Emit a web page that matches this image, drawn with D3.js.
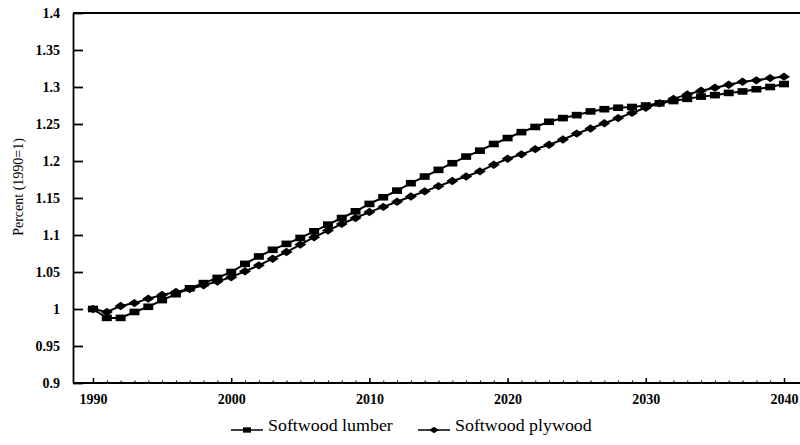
<!DOCTYPE html>
<html><head><meta charset="utf-8">
<script src="https://cdn.jsdelivr.net/npm/d3@7"></script>
<style>body{margin:0;background:#fff}svg{display:block}</style>
</head><body>
<svg id="c" width="800" height="445"></svg>
<script>
const years = d3.range(1990, 2041);
const lumber = [1.000,0.988,0.988,0.996,1.003,1.012,1.020,1.028,1.035,1.042,
  1.050,1.061,1.071,1.080,1.088,1.096,1.105,1.114,1.123,1.132,
  1.142,1.151,1.160,1.170,1.179,1.188,1.197,1.206,1.214,1.223,
  1.231,1.239,1.246,1.253,1.258,1.262,1.267,1.270,1.272,1.273,
  1.275,1.278,1.281,1.284,1.287,1.289,1.292,1.294,1.297,1.300,1.304];
const plywood = [1.000,0.996,1.004,1.008,1.014,1.019,1.023,1.027,1.032,1.037,
  1.043,1.051,1.059,1.068,1.077,1.087,1.097,1.106,1.115,1.123,
  1.131,1.138,1.145,1.152,1.159,1.166,1.173,1.179,1.186,1.195,
  1.203,1.209,1.216,1.222,1.229,1.237,1.244,1.251,1.258,1.265,
  1.272,1.278,1.284,1.290,1.295,1.299,1.303,1.307,1.309,1.312,1.314];
const yTicks = [0.9,0.95,1,1.05,1.1,1.15,1.2,1.25,1.3,1.35,1.4];
const xTicks = [1990,2000,2010,2020,2030,2040];
const seriesNames = ["Softwood lumber","Softwood plywood"];

const svg = d3.select("#c");
const font = "'Liberation Serif','Times New Roman',serif";
const x = d3.scaleLinear().domain([1990,2040]).range([93,784]);
const y = d3.scaleLinear().domain([0.9,1.4]).range([383,13]);
const left = 73;

// frame lines
svg.append("line").attr("x1",left).attr("x2",800).attr("y1",13).attr("y2",13).attr("stroke","#000").attr("stroke-width",2);
svg.append("line").attr("x1",left).attr("x2",800).attr("y1",383).attr("y2",383).attr("stroke","#000").attr("stroke-width",1.8);

// y axis
const ya = svg.append("g").attr("transform",`translate(${left},0)`)
  .call(d3.axisLeft(y).tickValues(yTicks).tickFormat(d=>String(d)).tickSize(-10).tickSizeOuter(0).tickPadding(13));
ya.select(".domain").attr("stroke-width",1.8);
ya.selectAll(".tick line").attr("stroke-width",1.8);
ya.selectAll("text").attr("font-family",font).attr("font-size",14).attr("font-weight","bold").attr("fill","#000");

// x minor ticks
const xm = svg.append("g").attr("transform","translate(0,383)")
  .call(d3.axisBottom(x).tickValues(years).tickFormat("").tickSize(-2.5).tickSizeOuter(0));
xm.select(".domain").remove();
// x major
const xa = svg.append("g").attr("transform","translate(0,383)")
  .call(d3.axisBottom(x).tickValues(xTicks).tickFormat(d3.format("d")).tickSize(-5).tickSizeOuter(0).tickPadding(11));
xa.select(".domain").remove();
xa.selectAll(".tick line").attr("stroke-width",1.5);
xa.selectAll("text").attr("font-family",font).attr("font-size",14).attr("font-weight","bold").attr("fill","#000");

// y title
svg.append("text").attr("transform","translate(23,187) rotate(-90)").attr("text-anchor","middle")
  .attr("font-family",font).attr("font-size",14).attr("fill","#000").text("Percent (1990=1)");

const line = d3.line().x((d,i)=>x(years[i])).y(d=>y(d));
const sq = "M-5,-3.3H5V3.3H-5Z";
const dm = "M-6,0L0,-4.2L6,0L0,4.2Z";

[[lumber,sq],[plywood,dm]].forEach(([vals,shape])=>{
  svg.append("path").datum(vals).attr("d",line).attr("fill","none").attr("stroke","#000").attr("stroke-width",2);
  svg.append("g").selectAll("path").data(vals).join("path")
    .attr("transform",(d,i)=>`translate(${x(years[i])},${y(d)})`).attr("d",shape).attr("fill","#000");
});

// legend
const leg = [[seriesNames[0],sq,231],[seriesNames[1],dm,418]];
leg.forEach(([name,shape,lx])=>{
  const g = svg.append("g").attr("transform",`translate(${lx},430)`);
  g.append("line").attr("x1",0).attr("x2",32).attr("y1",0).attr("y2",0).attr("stroke","#000").attr("stroke-width",1.5);
  g.append("path").attr("transform","translate(16,0) scale(0.8)").attr("d",shape).attr("fill","#000");
  g.append("text").attr("x",37).attr("y",1).attr("font-family",font).attr("font-size",16).attr("fill","#000")
    .attr("transform","scale(1.12,1)").attr("transform-origin","37 0").text(name);
});
</script>
</body></html>
